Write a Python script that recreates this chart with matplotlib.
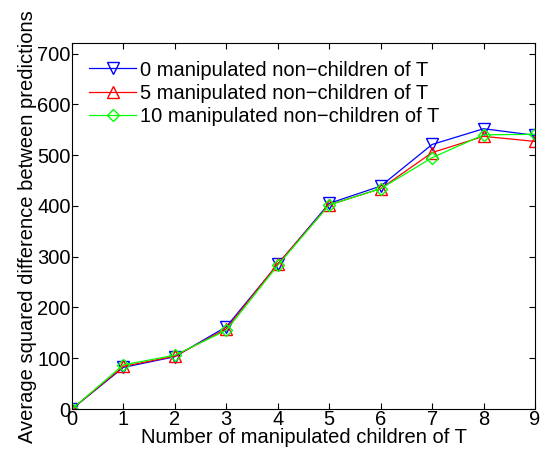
import matplotlib
matplotlib.use("Agg")
import matplotlib.pyplot as plt

plt.rcParams['font.family'] = ['Liberation Sans', 'DejaVu Sans']

n_children = [0, 1, 2, 3, 4, 5, 6, 7, 8, 9]
err_0 = [0, 82, 103, 162, 285, 405, 439, 521, 552, 539]
err_5 = [0, 84, 104, 158, 286, 402, 434, 505, 537, 527]
err_10 = [0, 87, 106, 155, 283, 402, 434, 495, 540, 541]

fs = 14.5

fig = plt.figure(figsize=(5.41, 4.57), dpi=100)
ax = fig.add_axes([0.133, 0.105, 0.856, 0.800])

ax.plot(n_children, err_0, color='blue', marker='v', mfc='none', ms=8, lw=0.9,
        label='0 manipulated non\u2212children of T')
ax.plot(n_children, err_5, color='red', marker='^', mfc='none', ms=8, lw=0.9,
        label='5 manipulated non\u2212children of T')
ax.plot(n_children, err_10, color='#00ff00', marker='D', mfc='none', ms=6.5, lw=0.9,
        label='10 manipulated non\u2212children of T')

ax.set_xlim(0, 9)
ax.set_ylim(0, 720)
ax.set_xticks(range(10))
ax.set_yticks(range(0, 701, 100))
ax.tick_params(direction='in', top=True, right=True, labelsize=fs, length=4, pad=1)
ax.set_xlabel('Number of manipulated children of T', fontsize=fs, labelpad=-1)
ax.set_ylabel('Average squared difference between predictions', fontsize=fs, labelpad=0)

ax.legend(loc='upper left', frameon=False, fontsize=fs, handlelength=2.35,
          handletextpad=0.2, labelspacing=0.22, borderaxespad=0.5,
          borderpad=0.35)

fig.savefig('out.png', dpi=100)
